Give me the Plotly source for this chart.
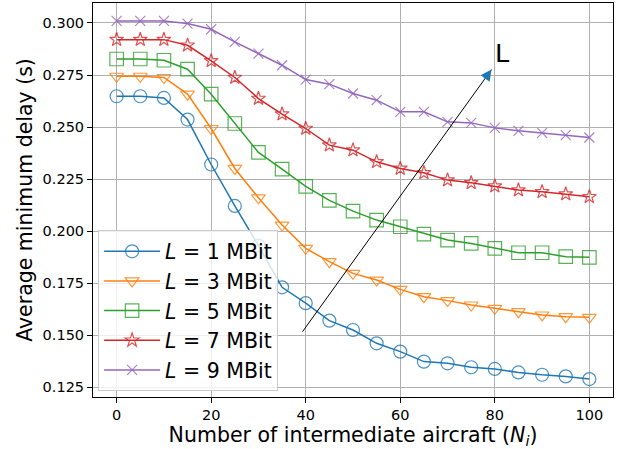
import plotly.graph_objects as go

n_aircraft = [0, 5, 10, 15, 20, 25, 30, 35, 40, 45, 50, 55, 60, 65, 70, 75, 80, 85, 90, 95, 100]

delay_L1 = [0.2648, 0.2648, 0.2640, 0.2536, 0.2320, 0.2121, 0.1930, 0.1730, 0.1654, 0.1570, 0.1525,
            0.1461, 0.1421, 0.1373, 0.1365, 0.1346, 0.1338, 0.1321, 0.1310, 0.1302, 0.1289]
delay_L3 = [0.2744, 0.2744, 0.2738, 0.2658, 0.2493, 0.2301, 0.2160, 0.2029, 0.1917, 0.1853, 0.1797,
            0.1765, 0.1720, 0.1685, 0.1666, 0.1645, 0.1629, 0.1613, 0.1597, 0.1589, 0.1586]
delay_L5 = [0.2827, 0.2827, 0.2821, 0.2778, 0.2658, 0.2517, 0.2378, 0.2298, 0.2215, 0.2148, 0.2096,
            0.2053, 0.2021, 0.1986, 0.1957, 0.1941, 0.1917, 0.1896, 0.1896, 0.1877, 0.1874]
delay_L7 = [0.2920, 0.2920, 0.2920, 0.2893, 0.2818, 0.2738, 0.2637, 0.2562, 0.2493, 0.2413, 0.2389,
            0.2333, 0.2301, 0.2280, 0.2245, 0.2232, 0.2216, 0.2197, 0.2189, 0.2178, 0.2165]
delay_L9 = [0.3010, 0.3010, 0.3010, 0.2997, 0.2970, 0.2909, 0.2853, 0.2797, 0.2728, 0.2706, 0.2661,
            0.2629, 0.2573, 0.2573, 0.2525, 0.2520, 0.2496, 0.2482, 0.2472, 0.2461, 0.2450]

series_names = ["<i>L</i> = 1 MBit", "<i>L</i> = 3 MBit", "<i>L</i> = 5 MBit",
                "<i>L</i> = 7 MBit", "<i>L</i> = 9 MBit"]
series_values = [delay_L1, delay_L3, delay_L5, delay_L7, delay_L9]
colors = ["#1f77b4", "#ff7f0e", "#2ca02c", "#d62728", "#9467bd"]
marker_colors = ["rgba(31,119,180,0.8)", "rgba(255,127,14,0.8)", "rgba(44,160,44,0.8)",
                 "rgba(214,39,40,0.8)", "rgba(148,103,189,0.8)"]
symbols = ["circle-open", "triangle-down-open", "square-open", "star-open", "x-thin-open"]
sizes = [13, 12, 13.5, 10.5, 10]

arrow_start = (39.1, 0.1510)
arrow_end = (79.3, 0.2776)
arrow_label_pos = (81.6, 0.2855)

FONT = "DejaVu Sans"

fig = go.Figure()
for i, (name, vals) in enumerate(zip(series_names, series_values)):
    fig.add_trace(go.Scatter(
        x=n_aircraft, y=vals, mode="lines+markers", name=name,
        legendgroup=f"g{i}",
        line=dict(color=colors[i], width=1.5),
        marker=dict(symbol=symbols[i], size=sizes[i], color=marker_colors[i],
                    line=dict(color=marker_colors[i], width=1.2)),
    ))

# arrow shaft (black) and head (blue)
fig.add_annotation(x=arrow_end[0], y=arrow_end[1], ax=arrow_start[0], ay=arrow_start[1],
                   xref="x", yref="y", axref="x", ayref="y", text="", showarrow=True,
                   arrowhead=0, arrowwidth=1, arrowcolor="black", standoff=0)
fig.add_annotation(x=arrow_end[0], y=arrow_end[1], ax=-6, ay=8.4,
                   xref="x", yref="y", text="", showarrow=True,
                   arrowhead=2, arrowsize=2.2, arrowwidth=1, arrowcolor="#1f77b4", standoff=0)
fig.add_annotation(x=arrow_label_pos[0], y=arrow_label_pos[1], xref="x", yref="y",
                   text="L", showarrow=False, font=dict(family=FONT, size=25.5, color="black"))

axis_common = dict(
    showgrid=True, gridcolor="#b0b0b0", gridwidth=0.8,
    showline=True, linecolor="black", linewidth=1, mirror=True,
    ticks="outside", ticklen=5, tickcolor="black", tickwidth=1,
    tickfont=dict(family=FONT, size=14.5, color="black"),
    zeroline=False, automargin=False,
)

fig.update_layout(
    width=627, height=449,
    margin=dict(l=93, r=14, t=3, b=52),
    plot_bgcolor="white", paper_bgcolor="white",
    font=dict(family=FONT, color="black"),
    xaxis=dict(range=[-5, 105], tickvals=[0, 20, 40, 60, 80, 100],
               title=dict(text="Number of intermediate aircraft (<i>N</i><sub><i>i</i></sub>)",
                          font=dict(family=FONT, size=20.5), standoff=1),
               **axis_common),
    yaxis=dict(range=[0.1203, 0.3096], tickvals=[0.125, 0.150, 0.175, 0.200, 0.225, 0.250, 0.275, 0.300],
               tickformat=".3f",
               title=dict(text="Average minimum delay (s)", font=dict(family=FONT, size=20.5), standoff=4),
               **axis_common),
    legend=dict(x=0.0098, y=0.014, xanchor="left", yanchor="bottom",
                bgcolor="rgba(255,255,255,0.8)", bordercolor="#cccccc", borderwidth=1,
                font=dict(family=FONT, size=20.5, color="black"),
                tracegroupgap=0, itemwidth=56),
    showlegend=True,
)

fig.write_html("out.html", config={"displayModeBar": False},
               post_script="document.body.style.margin='0';")
